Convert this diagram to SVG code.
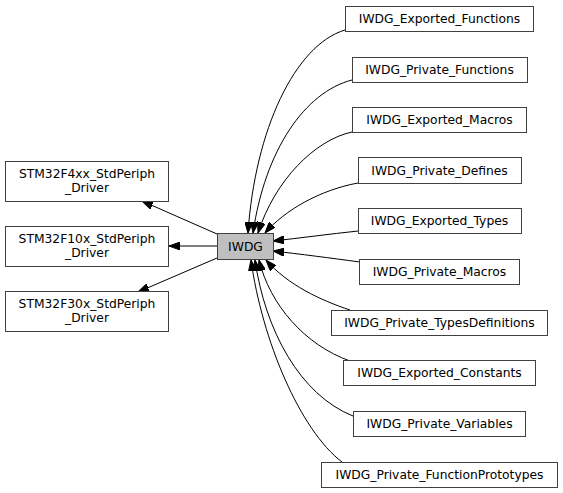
<svg xmlns="http://www.w3.org/2000/svg" width="563" height="493" viewBox="0 0 563 493">
<defs>
<style>
.box{fill:#ffffff;stroke:#404040;stroke-width:1}
.cur{fill:#bfbfbf;stroke:#404040;stroke-width:1}
text{font-family:"DejaVu Sans",sans-serif;font-size:12.3px;fill:#000;text-anchor:middle}
.edge{fill:none;stroke:#000;stroke-width:1;marker-end:url(#arr)}
</style>
<marker id="arr" viewBox="0 0 11 8" refX="11" refY="4" markerWidth="11" markerHeight="8" markerUnits="userSpaceOnUse" orient="auto">
<path d="M0,0 L11,4 L0,8 z" fill="#000" stroke="#000"/>
</marker>
</defs>
<rect width="563" height="493" fill="#fff"/>
<g id="edges">
<path class="edge" d="M217,234 L142,201"/>
<path class="edge" d="M217,246 L169,246"/>
<path class="edge" d="M217,258 L138,292"/>
<path class="edge" d="M345,30 C295,45 255,130 248,233"/>
<path class="edge" d="M352,80 C305,92 265,150 253,233"/>
<path class="edge" d="M352,132 C315,140 275,180 258,233"/>
<path class="edge" d="M358,183 C320,190 285,210 265,233"/>
<path class="edge" d="M358,231 C330,234 300,238 273,241"/>
<path class="edge" d="M360,262 C330,258 300,254 273,251"/>
<path class="edge" d="M350,310 C320,300 288,285 266,260"/>
<path class="edge" d="M350,361 C305,345 270,305 259,260"/>
<path class="edge" d="M353,416 C300,395 265,330 255,260"/>
<path class="edge" d="M342,462 C300,430 262,340 251,260"/>
</g>
<g id="IWDG"><rect class="cur" x="217.5" y="233.5" width="56" height="26"/><text x="245.5" y="251">IWDG</text></g>
<g id="STM32F4xx"><rect class="box" x="5.5" y="161.5" width="163" height="40"/><text x="87" y="177.5">STM32F4xx_StdPeriph</text><text x="87" y="191.5">_Driver</text></g>
<g id="STM32F10x"><rect class="box" x="5.5" y="226.5" width="163" height="40"/><text x="87" y="242.5">STM32F10x_StdPeriph</text><text x="87" y="256.5">_Driver</text></g>
<g id="STM32F30x"><rect class="box" x="5.5" y="291.5" width="163" height="40"/><text x="87" y="307.5">STM32F30x_StdPeriph</text><text x="87" y="321.5">_Driver</text></g>
<g id="IWDG_Exported_Functions"><rect class="box" x="345.5" y="6.5" width="188" height="25"/><text x="439.5" y="23">IWDG_Exported_Functions</text></g>
<g id="IWDG_Private_Functions"><rect class="box" x="352.5" y="57.5" width="175" height="25"/><text x="439.5" y="74">IWDG_Private_Functions</text></g>
<g id="IWDG_Exported_Macros"><rect class="box" x="352.5" y="107.5" width="174" height="25"/><text x="439.5" y="124">IWDG_Exported_Macros</text></g>
<g id="IWDG_Private_Defines"><rect class="box" x="358.5" y="157.5" width="163" height="26"/><text x="439.5" y="174.5">IWDG_Private_Defines</text></g>
<g id="IWDG_Exported_Types"><rect class="box" x="358.5" y="208.5" width="163" height="25"/><text x="439.5" y="225">IWDG_Exported_Types</text></g>
<g id="IWDG_Private_Macros"><rect class="box" x="359.5" y="259.5" width="160" height="25"/><text x="439.5" y="276">IWDG_Private_Macros</text></g>
<g id="IWDG_Private_TypesDefinitions"><rect class="box" x="331.5" y="310.5" width="216" height="25"/><text x="439.5" y="327">IWDG_Private_TypesDefinitions</text></g>
<g id="IWDG_Exported_Constants"><rect class="box" x="343.5" y="360.5" width="192" height="25"/><text x="439.5" y="377">IWDG_Exported_Constants</text></g>
<g id="IWDG_Private_Variables"><rect class="box" x="353.5" y="411.5" width="172" height="25"/><text x="439.5" y="428">IWDG_Private_Variables</text></g>
<g id="IWDG_Private_FunctionPrototypes"><rect class="box" x="321.5" y="462.5" width="236" height="25"/><text x="439.5" y="479">IWDG_Private_FunctionPrototypes</text></g>
</svg>
